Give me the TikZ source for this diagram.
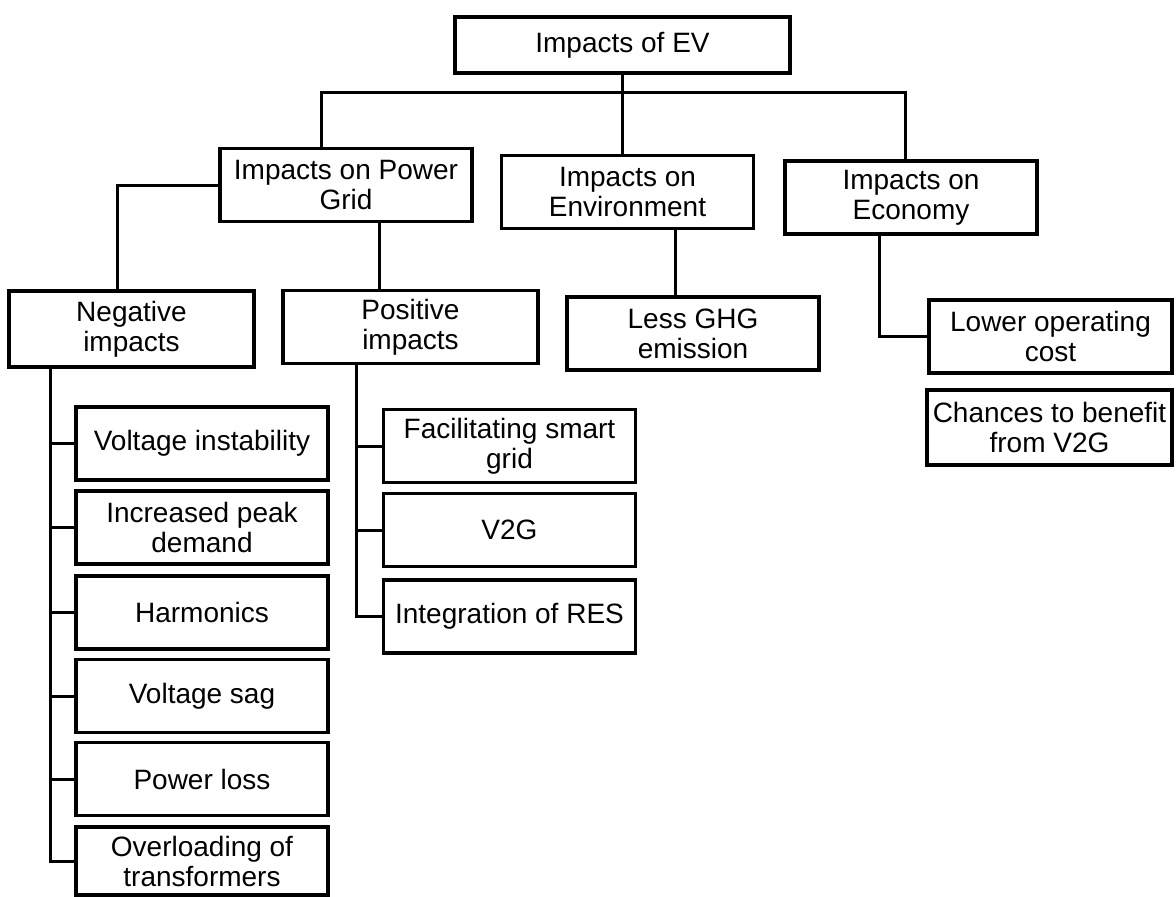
\documentclass[tikz,border=0pt]{standalone}
\usepackage{fontspec}
\setmainfont{Liberation Sans}
\usepackage{tikz}

\tikzset{
  impbox/.style={draw, line width=1.6pt, align=center, inner sep=2pt,
    minimum width=126pt, minimum height=36.5pt,
    font=\fontsize{14}{15}\selectfont},
  link/.style={line width=1.5pt}
}

\begin{document}
\begin{tikzpicture}[x=0.5pt, y=-0.5pt]
  \useasboundingbox (0,0) rectangle (1176,896);

  % top levels
  \node[impbox, minimum width=167.5pt, minimum height=28pt] (root) at (622.5,45) {Impacts of EV};
  \node[impbox] (pg) at (346,185) {Impacts on Power\\Grid};
  \node[impbox] (env) at (627.5,192) {Impacts on\\Environment};
  \node[impbox] (econ) at (911,197.5) {Impacts on\\Economy};

  \node[impbox, minimum width=122.5pt, minimum height=38pt] (neg) at (131.5,329) {Negative\\impacts};
  \node[impbox, minimum width=127.5pt] (pos) at (410.5,327) {Positive\\impacts};
  \node[impbox] (ghg) at (693,333.5) {Less GHG\\emission};
  \node[impbox, minimum width=121.5pt] (loc) at (1050.5,336.5) {Lower operating\\cost};
  \node[impbox, minimum width=122.5pt, minimum height=37.5pt] (cvg) at (1049.5,427.5) {Chances to benefit\\from V2G};

  % negative impacts
  \node[impbox] (vi) at (202,443.5) {Voltage instability};
  \node[impbox] (ipd) at (202,527.5) {Increased peak\\demand};
  \node[impbox] (harm) at (202,612.5) {Harmonics};
  \node[impbox] (vsag) at (202,696) {Voltage sag};
  \node[impbox] (ploss) at (202,779) {Power loss};
  \node[impbox, minimum height=34pt] (otr) at (202,861) {Overloading of\\transformers};

  % positive impacts
  \node[impbox] (fsg) at (509.5,446) {Facilitating smart\\grid};
  \node[impbox] (vtg) at (509.5,530) {V2G};
  \node[impbox] (ires) at (509.5,616.5) {Integration of RES};

  % connectors
  \coordinate (bus) at (0,92);
  \draw[link] ([xshift=-12.5pt]pg.north) -- ([xshift=-12.5pt]pg.north |- bus)
    -- ([xshift=-3pt]econ.north |- bus) -- ([xshift=-3pt]econ.north);
  \draw[link] (root.south) -- (root.south |- env.north);
  \draw[link] (pg.west) -| ([xshift=-7pt]neg.north);
  \draw[link] ([xshift=16.5pt]pg.south) -- ([xshift=16.5pt]pg.south |- pos.north);
  \draw[link] ([xshift=24pt]env.south) -- ([xshift=24pt]env.south |- ghg.north);
  \draw[link] ([xshift=-16pt]econ.south) |- (loc.west);

  \foreach \n in {vi,ipd,harm,vsag,ploss,otr}
    \draw[link] ([xshift=-40.5pt]neg.south) |- (\n.west);
  \foreach \n in {fsg,vtg,ires}
    \draw[link] ([xshift=-27pt]pos.south) |- (\n.west);
\end{tikzpicture}
\end{document}
